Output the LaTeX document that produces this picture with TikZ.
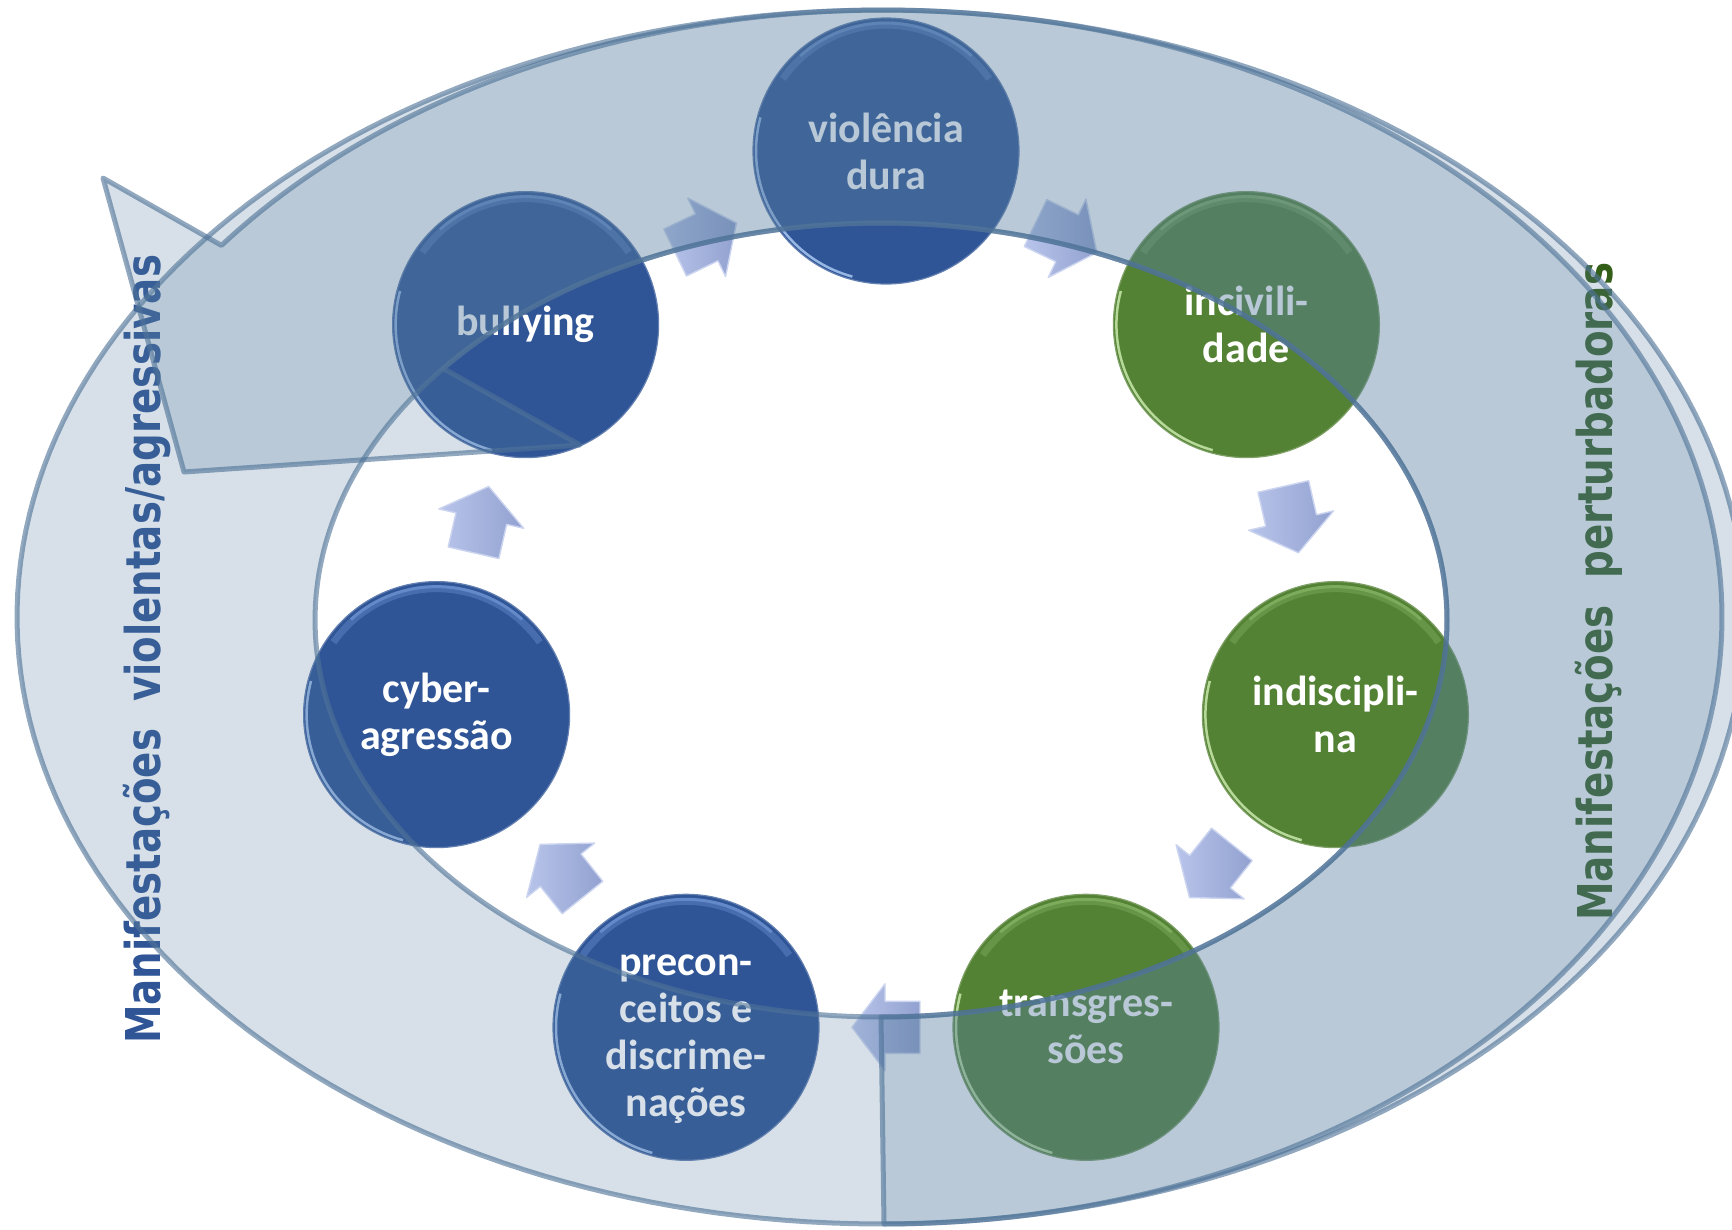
\documentclass[tikz,border=0pt]{standalone}
\usepackage{fontspec}
\usepackage{graphicx}
\usetikzlibrary{calc}
\newfontfamily\circfont{Carlito}
\newfontfamily\labfont{DejaVu Sans}
\definecolor{ringc}{RGB}{88,126,159}
\definecolor{ringline}{RGB}{79,115,152}
\definecolor{nodeblue}{RGB}{47,85,151}
\definecolor{nodegreen}{RGB}{84,130,53}
\definecolor{blueHL}{RGB}{120,156,218}
\definecolor{blueRim}{RGB}{169,200,242}
\definecolor{greenHL}{RGB}{141,187,107}
\definecolor{greenRim}{RGB}{200,232,170}
\definecolor{arrowtop}{RGB}{184,196,234}
\definecolor{arrowbot}{RGB}{146,161,208}
\definecolor{arrowedge}{RGB}{204,213,240}
\definecolor{labblue}{RGB}{47,85,151}
\definecolor{labgreen}{RGB}{50,94,24}
\tikzset{
  cyclenode/.style={circle, minimum size=266pt, inner sep=0pt, align=center,
    text=white, font=\circfont\bfseries\fontsize{42}{47}\selectfont},
  bluenode/.style={cyclenode, fill=nodeblue, draw=nodeblue!75!white, line width=1.2pt},
  greennode/.style={cyclenode, fill=nodegreen, draw=nodegreen!75!white, line width=1.2pt},
  ringlayer/.style={fill=ringc, fill opacity=0.24, draw=ringline, draw opacity=0.62,
    line width=5pt, line join=round},
  cyclearrow/.style={left color=arrowtop, right color=arrowbot, draw=arrowedge,
    line width=1.4pt, line join=round},
  sidelabel/.style={rotate=90, anchor=base west, inner sep=0pt,
    font=\labfont\bfseries\fontsize{48}{50}\selectfont},
}
\newcommand\bevelhl[3]{%
  \draw[#3HL, line width=7pt, draw opacity=0.35]
    plot[domain=215:325, samples=40] ({#1+126*cos(\x)},{#2+126*sin(\x)});
  \draw[#3HL, line width=3pt, draw opacity=0.6]
    plot[domain=228:312, samples=40] ({#1+128*cos(\x)},{#2+128*sin(\x)});
  \draw[#3Rim, line width=2.5pt, draw opacity=0.85]
    plot[domain=105:195, samples=40] ({#1+130*cos(\x)},{#2+130*sin(\x)});
}
\begin{document}
\begin{tikzpicture}[x=1pt, y=-1pt]
\useasboundingbox (0,0) rectangle (1732,1229);
\clip (0,0) rectangle (1732,1229);

% side labels (under the translucent rings)
\node[sidelabel, text=labblue] (labL) at (160,1044)
  {\resizebox{789pt}{\height}{Manifestações\ \ violentas/agressivas}};
\node[sidelabel, text=labgreen] (labR) at (1612,921)
  {\resizebox{658pt}{\height}{Manifestações\ \ perturbadoras}};

% cycle nodes
\node[bluenode]  (vd)  at (886,151)      {violência\\dura};
\node[greennode] (inc) at (1246.4,324.6) {incivili-\\dade};
\node[greennode] (ind) at (1335.4,714.6) {indiscipli-\\na};
\node[greennode] (tr)  at (1086,1027.3)  {transgres-\\sões};
\node[bluenode]  (pr)  at (686,1027.3)   {\rule{0pt}{45pt}precon-\\ceitos e\\discrime-\\nações};
\node[bluenode]  (cy)  at (436.6,714.6)  {cyber-\\agressão};
\node[bluenode]  (bu)  at (525.6,324.6)  {bullying};

\bevelhl{886}{151}{blue}
\bevelhl{1246.4}{324.6}{green}
\bevelhl{1335.4}{714.6}{green}
\bevelhl{1086}{1027.3}{green}
\bevelhl{686}{1027.3}{blue}
\bevelhl{436.6}{714.6}{blue}
\bevelhl{525.6}{324.6}{blue}

% small block arrows between the nodes
\foreach \a/\b/\r in {vd/inc/-25.714, inc/ind/-77.143, ind/tr/-128.571,
                      tr/pr/-180, pr/cy/128.571, cy/bu/77.143, bu/vd/25.714}{
  \begin{scope}[shift={($(\a)!0.5!(\b)$)}, rotate=\r]
    \path[cyclearrow] (-34,-26) -- (1,-26) -- (1,-43.5) -- (34,0)
      -- (1,43.5) -- (1,26) -- (-34,26) -- cycle;
  \end{scope}
}

% light ring (full)
\path[ringlayer, even odd rule]
  plot[domain=0:360, samples=240] ({881+864*cos(\x)},{617+607*sin(\x)}) -- cycle
  plot[domain=0:360, samples=240] ({881+566*cos(\x)},{620+397*sin(\x)}) -- cycle;

% dark circular arrow (second translucent layer)
\path[ringlayer]
  plot[domain=90:-142.25, samples=220] ({884+838*cos(\x)},{617+607*sin(\x)})
  -- (103,178) -- (184,472) -- (580,445) -- (443.1,368.4)
  -- plot[domain=-140.68:90, samples=220] ({881+566*cos(\x)},{620+397*sin(\x)})
  -- cycle;
\end{tikzpicture}
\end{document}
